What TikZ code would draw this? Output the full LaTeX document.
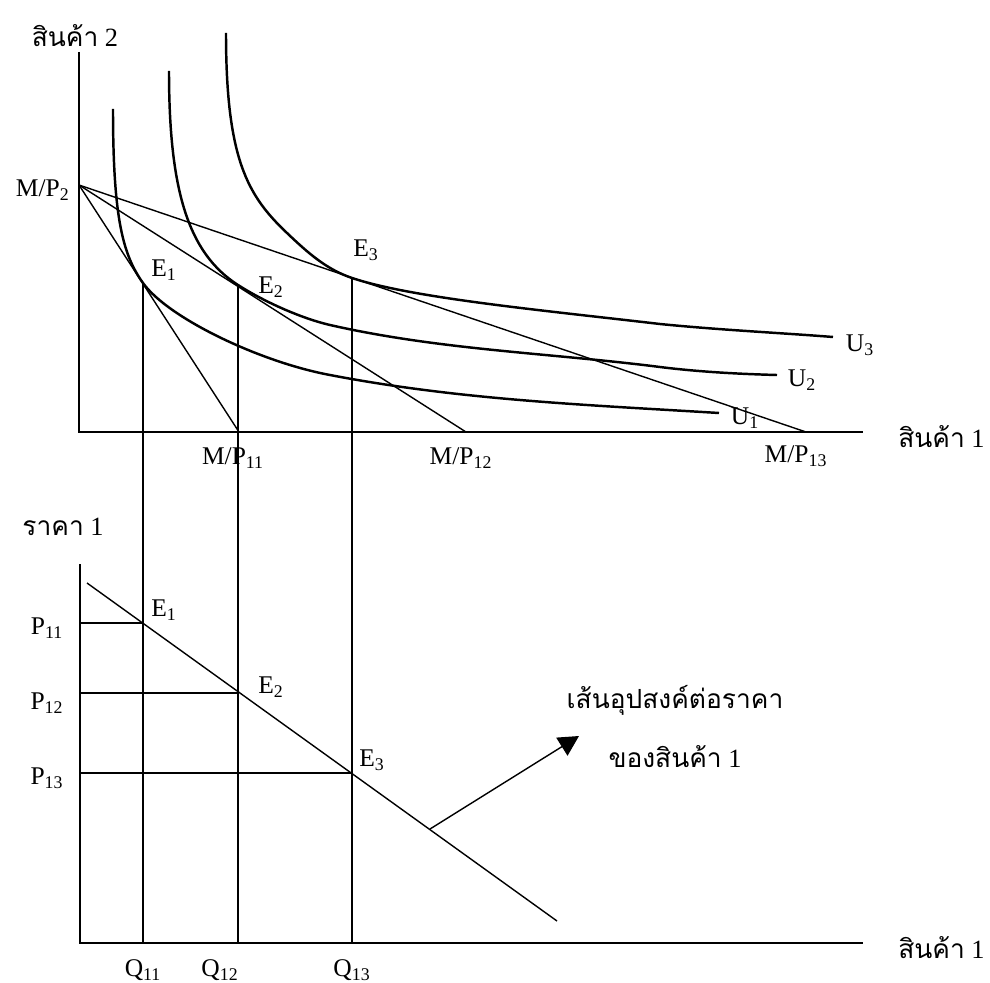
\documentclass[tikz,border=0pt]{standalone}
\usepackage{fontspec}
\setmainfont{Liberation Serif}
\newfontfamily\thaifont[Script=Thai]{Loma}
\usetikzlibrary{arrows.meta}
\begin{document}
\begin{tikzpicture}[x=0.02cm,y=-0.02cm,
  axis/.style={line width=1.1pt},
  budget/.style={line width=0.8pt},
  icurve/.style={line width=1.4pt},
  guide/.style={line width=0.8pt},
  lbl/.style={inner sep=0pt,font=\fontsize{14.5}{16}\selectfont},
  thlbl/.style={inner sep=0pt,font=\fontsize{15}{18}\selectfont}]
\useasboundingbox (0,0) rectangle (990,983);
% ---------- upper panel ----------
\coordinate (Y1) at (79,52);
\coordinate (O1) at (79,432);
\coordinate (X1) at (863,432);
\coordinate (M2) at (79,185);
\coordinate (B1) at (239,432);
\coordinate (B2) at (466,432);
\coordinate (B3) at (806,432);
\coordinate (T1) at (143,283);
\coordinate (T2) at (238,285);
\coordinate (T3) at (352,278);
\draw[axis] (Y1) -- (O1) -- (X1);
\draw[budget] (M2) -- (B1);
\draw[budget] (M2) -- (B2);
\draw[budget] (M2) -- (B3);
% U1
\draw[icurve] (113,109) .. controls (113,219) and (123,255) .. (T1)
  .. controls (168,318) and (260,362) .. (330,375)
  .. controls (460,400) and (589,405) .. (719,413);
% U2
\draw[icurve] (169,71) .. controls (169,190) and (188,253) .. (T2)
  .. controls (263,301) and (300,318) .. (330,325)
  .. controls (440,350) and (550,353) .. (660,367)
  .. controls (700,372) and (740,374) .. (777,375);
% U3
\draw[icurve] (226,33) .. controls (226,160) and (248,196) .. (287,233)
  .. controls (309,254) and (327,269.5) .. (T3)
  .. controls (412,298) and (540,310) .. (660,324)
  .. controls (720,330) and (783,333) .. (833,337);
\node[thlbl] (ly1) at (75,36) {{\thaifont สินค้า} 2};
\node[thlbl,anchor=west] (lx1) at (898,437) {{\thaifont สินค้า} 1};
\node[lbl,anchor=east] (lm2) at (70,190) {M/P\textsubscript{2}};
\node[lbl] (lb1) at (233,458) {M/P\textsubscript{11}};
\node[lbl] (lb2) at (461,458) {M/P\textsubscript{12}};
\node[lbl] (lb3) at (796,456) {M/P\textsubscript{13}};
\node[lbl] (lu1) at (745,418) {U\textsubscript{1}};
\node[lbl] (lu2) at (802,380) {U\textsubscript{2}};
\node[lbl] (lu3) at (860,345) {U\textsubscript{3}};
\node[lbl] (le1) at (164,270) {E\textsubscript{1}};
\node[lbl] (le2) at (271,287) {E\textsubscript{2}};
\node[lbl] (le3) at (366,250) {E\textsubscript{3}};
% ---------- lower panel ----------
\coordinate (Y2) at (80,564);
\coordinate (O2) at (80,943);
\coordinate (X2) at (863,943);
\coordinate (D1) at (87,583);
\coordinate (D2) at (557,921);
\coordinate (S1) at (143,623);
\coordinate (S2) at (238,693);
\coordinate (S3) at (352,773);
\coordinate (F1) at (143,943);
\coordinate (F2) at (238,943);
\coordinate (F3) at (352,943);
\coordinate (H1) at (80,623);
\coordinate (H2) at (80,693);
\coordinate (H3) at (80,773);
\coordinate (A0) at (430,829);
\coordinate (A1) at (579,736);
\draw[axis] (Y2) -- (O2) -- (X2);
\draw[budget] (D1) -- (D2);
\draw[guide] (T1) -- (F1);
\draw[guide] (T2) -- (F2);
\draw[guide] (T3) -- (F3);
\draw[guide] (H1) -- (S1);
\draw[guide] (H2) -- (S2);
\draw[guide] (H3) -- (S3);
\draw[budget,-{Triangle[length=11.5pt,width=12pt]}] (A0) -- (A1);
\node[thlbl] (ly2) at (63,527) {{\thaifont ราคา} 1};
\node[thlbl,anchor=west] (lx2) at (898,948) {{\thaifont สินค้า} 1};
\node[lbl] (lp1) at (47,628) {P\textsubscript{11}};
\node[lbl] (lp2) at (47,703) {P\textsubscript{12}};
\node[lbl] (lp3) at (47,778) {P\textsubscript{13}};
\node[lbl] (lf1) at (164,610) {E\textsubscript{1}};
\node[lbl] (lf2) at (271,687) {E\textsubscript{2}};
\node[lbl] (lf3) at (372,760) {E\textsubscript{3}};
\node[lbl] (lq1) at (143,970) {Q\textsubscript{11}};
\node[lbl] (lq2) at (220,970) {Q\textsubscript{12}};
\node[lbl] (lq3) at (352,970) {Q\textsubscript{13}};
\node[thlbl] (ld1) at (675,700) {\thaifont เส้นอุปสงค์ต่อราคา};
\node[thlbl] (ld2) at (675,757) {{\thaifont ของสินค้า} 1};
\end{tikzpicture}
\end{document}
